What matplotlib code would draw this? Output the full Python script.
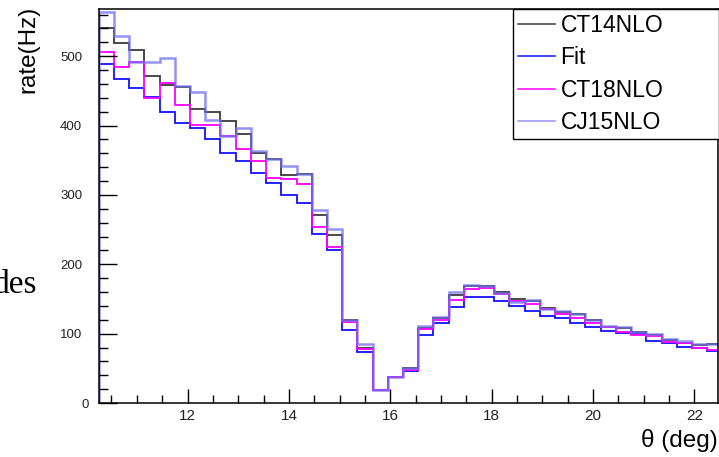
import numpy as np
import matplotlib as mpl
mpl.use("Agg")
import matplotlib.pyplot as plt
from matplotlib.ticker import MultipleLocator
from matplotlib.transforms import ScaledTranslation

mpl.rcParams.update({"font.family": ["Liberation Sans", "DejaVu Sans"]})

# theta bins: 0.3 deg wide starting at 10.25 deg
edges = 10.25 + 0.3 * np.arange(42)

ct14 = [540, 519, 509, 471, 459, 455, 424, 419, 407, 388, 361, 352, 328, 330, 271, 242,
        119, 80, 19, 38, 50, 108, 122, 156, 168, 168, 160, 150, 147, 137, 131, 129,
        120, 110, 108, 102, 98, 91, 87, 83, 85]
fit = [488, 467, 454, 441, 419, 403, 396, 381, 360, 349, 331, 317, 300, 289, 243, 221,
       105, 74, 19, 38, 46, 98, 115, 139, 153, 153, 147, 140, 133, 125, 122, 115,
       110, 104, 101, 99, 90, 86, 81, 79, 75]
ct18 = [506, 485, 491, 440, 462, 429, 401, 401, 385, 366, 349, 325, 323, 315, 254, 225,
        117, 78, 19, 38, 48, 106, 120, 148, 164, 166, 157, 147, 143, 135, 129, 123,
        116, 109, 103, 98, 96, 88, 86, 80, 76]
cj15 = [564, 529, 491, 491, 498, 457, 448, 408, 385, 397, 364, 352, 342, 330, 278, 251,
        119, 85, 19, 38, 51, 111, 124, 160, 170, 169, 159, 146, 148, 136, 132, 129,
        120, 111, 109, 103, 99, 92, 89, 85, 85]

series = [("CT14NLO", ct14, "#3a3a3a", 1.3, 1.0),
          ("Fit", fit, "#1010ff", 1.3, 1.0),
          ("CT18NLO", ct18, "#ff00ff", 1.3, 1.0),
          ("CJ15NLO", cj15, "#6f6ff0", 1.8, 0.75)]

W, H = 719, 457
fig = plt.figure(figsize=(W / 100, H / 100), dpi=100)
ax = fig.add_axes([98.8 / W, 1 - 403 / H, (718.3 - 98.8) / W, 394 / H])

handles = []
for name, vals, col, lw, a in series:
    ax.stairs(vals, edges, color=col, lw=lw, alpha=a, label=name)
    handles.append(plt.Line2D([], [], color=col, lw=1.1, alpha=a))

ax.set_xlim(10.25, 22.47)
ax.set_ylim(0, 568)
ax.xaxis.set_major_locator(MultipleLocator(2))
ax.xaxis.set_minor_locator(MultipleLocator(0.5))
ax.set_yticks(np.arange(0, 600, 100))
ax.yaxis.set_minor_locator(MultipleLocator(20))
ax.tick_params(which="both", direction="in", top=False, right=False,
               labelcolor="#222", width=1.0)
ax.tick_params(axis="x", which="major", length=9.8, pad=4, labelsize=11)
ax.tick_params(axis="x", which="minor", length=5.5)
ax.tick_params(axis="y", which="major", length=13, pad=12, labelsize=9.5)
ax.tick_params(axis="y", which="minor", length=6.7)
for s in ax.spines.values():
    s.set_linewidth(1.1)
# the zero label sits a little closer to the axis
zero = ax.get_yticklabels()[0]
zero.set_transform(zero.get_transform() + ScaledTranslation(0.07, 0, fig.dpi_scale_trans))

fig.text(28 / W, 1 - 6 / H, "rate(Hz)", rotation=90, ha="center", va="top", fontsize=17.5)
fig.text(718 / W, 1 - 441 / H, "θ (deg)", ha="right", va="center", fontsize=17.5)
fig.text(37 / W, 1 - 293 / H, "des", ha="right", va="baseline", fontsize=24,
         family="Liberation Serif")

leg = ax.legend(handles, [s[0] for s in series], loc="upper left", mode="expand",
                bbox_to_anchor=(513 / W, 1 - 139 / H, 206 / W, 130 / H),
                bbox_transform=fig.transFigure,
                fontsize=16.5, frameon=True, fancybox=False, framealpha=1,
                edgecolor="black", handlelength=1.6, handletextpad=0.25,
                labelspacing=0.41, borderpad=0.22, borderaxespad=0)
leg.get_frame().set_linewidth(1.0)

fig.savefig("out.png", dpi=100)
